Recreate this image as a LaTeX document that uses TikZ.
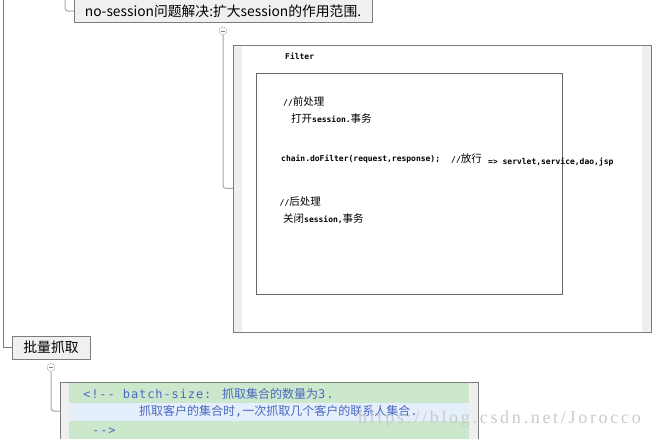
\documentclass[tikz,border=0pt]{standalone}
\usepackage{fontspec}
\usetikzlibrary{positioning}
\setmainfont{Noto Sans CJK SC}
\newfontfamily\cjk{Noto Sans CJK SC}
\newfontfamily\pixmono{DejaVu Sans Mono}
\newfontfamily\bluemono{DejaVu Sans Mono}[LetterSpace=7.5]
\newfontfamily\wmark{Liberation Serif}[LetterSpace=15]

\definecolor{boxgray}{HTML}{F0F0F0}
\definecolor{linegray}{HTML}{7C7C7C}
\definecolor{branchgray}{HTML}{A6A6A6}
\definecolor{stripgray}{HTML}{EFEFEF}
\definecolor{codegreen}{HTML}{CCE8CC}
\definecolor{codeblue}{HTML}{E5EFFC}
\definecolor{codetext}{HTML}{4A68C0}
\definecolor{wmgray}{HTML}{CACACA}
\definecolor{minusblue}{HTML}{6A7FA8}

\tikzset{
  topic/.style={rectangle, draw=linegray, fill=boxgray, inner sep=0pt,
    font=\cjk\fontsize{13.8}{15}\selectfont},
  toggle/.style={circle, draw=branchgray, fill=white, minimum size=8pt, inner sep=0pt,
    path picture={\draw[minusblue, line width=0.8pt]
      ([xshift=-2pt]path picture bounding box.center) --
      ([xshift=2pt]path picture bounding box.center);}},
  panel/.style={rectangle, fill=stripgray, inner sep=0pt},
  branch/.style={draw=branchgray, line width=1pt, rounded corners=3pt},
  trunkline/.style={draw=linegray, line width=0.8pt},
  pix/.style={anchor=base west, inner sep=0pt, font=\cjk\fontsize{10.5}{12}\selectfont},
  blue/.style={anchor=base west, inner sep=0pt, text=codetext,
    font=\cjk\fontsize{12}{14}\selectfont}
}
\newcommand{\pixtt}[1]{{\pixmono\bfseries\fontsize{8}{9}\selectfont #1}}
\newcommand{\bluett}[1]{{\bluemono\fontsize{12}{14}\selectfont #1}}

\begin{document}
\begin{tikzpicture}[x=1pt,y=-1pt]
  \useasboundingbox (0,0) rectangle (654,439);
  \clip (0,0) rectangle (654,439);

  % topics
  \node[topic, minimum width=298pt, minimum height=23pt] (nosession) at (223,11)
    {no-session问题解决:扩大session的作用范围.};
  \node[topic, minimum width=78pt, minimum height=23pt] (batch) at (51,347.5) {批量抓取};

  \node[toggle, below=4pt of nosession] (t1) {};
  \node[toggle, below=4pt of batch] (t2) {};

  % filter picture
  \node[panel, minimum width=418pt, minimum height=286.5pt, anchor=north west] (filter) at (233,45) {};
  \fill[white] ([xshift=9pt]filter.north west) rectangle ([xshift=-9pt]filter.south east);
  \draw[linegray] (filter.north west) rectangle (filter.south east);
  \node[rectangle, draw=linegray!85!black, minimum width=306pt, minimum height=221.5pt,
    anchor=north west, inner sep=0pt] (inner) at (255.5,72.5) {};

  \begin{scope}[every node/.style={pix}]
    \node (ftitle) at (285,59) {\pixtt{Filter}};
    \node (pre)    at (283,105) {\pixtt{//}前处理};
    \node (open)   at (291,122) {打开\pixtt{session.}事务};
    \node (chain)  at (281,161.5) {\pixtt{chain.doFilter(request,response);}};
    \node (pass)   at (451,162) {\pixtt{//}放行};
    \node (target) at (488,164) {\pixtt{=> servlet,service,dao,jsp}};
    \node (post)   at (279.5,205) {\pixtt{//}后处理};
    \node (close)  at (283,222) {关闭\pixtt{session,}事务};
  \end{scope}

  % batch-size code
  \node[panel, minimum width=418pt, minimum height=58pt, anchor=north west] (code) at (60,382) {};
  \fill[codegreen] (69,382.5) rectangle (469,403);
  \fill[codeblue]  (69,403) rectangle (469,421);
  \fill[codegreen] (69,421) rectangle (469,440);
  \draw[linegray] (code.north west) rectangle (code.south east);

  \begin{scope}[every node/.style={blue}]
    \node (l1) at (83,398) {\bluett{<!-- batch-size: }抓取集合的数量为\bluett{3.}};
    \node (l2) at (139,415.5) {抓取客户的集合时\bluett{,}一次抓取几个客户的联系人集合\bluett{.}};
    \node (l3) at (92,434) {\bluett{-->}};
  \end{scope}

  % connectors
  \coordinate (trunk) at (3.5,-1);
  \coordinate (stub) at (65,-1);
  \draw[trunkline] (trunk) |- (batch.west);
  \draw[branch] (stub) |- (nosession.west);
  \draw[branch] (t1.south) |- (filter.west);
  \draw[branch] (t2.south) |- (code.west);

  \node[anchor=base west, inner sep=0pt, text=wmgray, font=\wmark\fontsize{18}{20}\selectfont]
    (mark) at (358,423) {https://blog.csdn.net/Jorocco};
\end{tikzpicture}
\end{document}
